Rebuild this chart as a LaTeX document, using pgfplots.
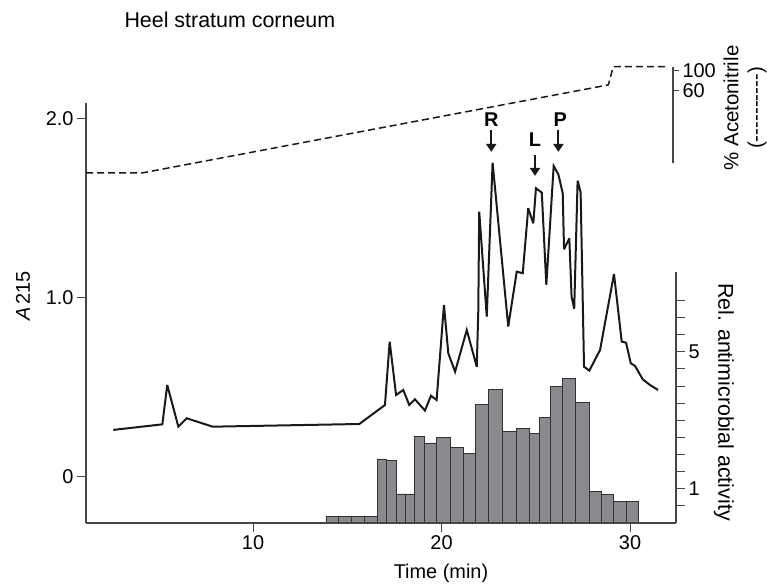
\documentclass[border=0pt]{standalone}
\usepackage{fontspec}
\setmainfont{Liberation Sans}
\usepackage{pgfplots}
\pgfplotsset{compat=1.18}
\usetikzlibrary{arrows.meta}
\definecolor{barfill}{RGB}{138,138,142}
\definecolor{baredge}{RGB}{50,50,52}
\definecolor{ink}{RGB}{25,25,25}
\definecolor{axisgray}{RGB}{70,70,70}

\begin{document}
\begin{tikzpicture}[font=\fontsize{20}{24}\selectfont]
\path[use as bounding box] (0,0) rectangle (767bp,584bp);

% Relative antimicrobial activity (bars, right axis)
\begin{axis}[
  at={(86bp,61bp)}, anchor=south west, scale only axis,
  width=590bp, height=251bp,
  xmin=1.14, xmax=32.44, ymin=0, ymax=7.33,
  axis x line=none, axis y line*=right,
  axis line style={axisgray, line width=1.2bp, -},
  ytick={1,5}, minor ytick={0.5,1.5,2,2.5,3,3.5,4,4.5,5.5,6,6.5},
  tick align=outside, major tick length=9bp, minor tick length=9bp,
  tick style={axisgray, line width=1bp},
  /pgf/number format/assume math mode=true,
  tick label style={font=\fontsize{20}{24}\selectfont},
]
\addplot[ybar interval, fill=barfill, draw=baredge, line width=0.7bp] coordinates {
(13.87,0.19) (14.55,0.19) (15.22,0.19) (15.88,0.19)
(16.59,1.87) (17.08,1.82) (17.58,0.85) (18.07,0.85)
(18.58,2.53) (19.11,2.34) (19.75,2.50) (20.48,2.21)
(21.18,2.02) (21.79,3.47) (22.51,3.90) (23.24,2.68)
(23.96,2.75) (24.65,2.61) (25.20,3.09) (25.78,3.99)
(26.43,4.21) (27.09,3.53) (27.83,0.92) (28.49,0.83)
(29.14,0.63) (29.80,0.63) (30.46,0)
};
\end{axis}

% A215 chromatogram (left axis) and acetonitrile gradient
\begin{axis}[
  at={(86bp,61bp)}, anchor=south west, scale only axis,
  width=590bp, height=420bp,
  xmin=1.14, xmax=32.44, ymin=-0.257, ymax=2.089,
  axis x line*=bottom, axis y line*=left,
  axis line style={axisgray, line width=1.2bp, -},
  xtick={10,20,30}, ytick={0,1,2}, yticklabels={0,1.0,2.0},
  tick align=outside, major tick length=9bp,
  tick style={axisgray, line width=1bp},
  /pgf/number format/assume math mode=true,
  tick label style={font=\fontsize{20}{24}\selectfont},
  clip=false,
]
\addplot[ink, dash pattern=on 7bp off 4bp, line width=1.5bp] coordinates {
(1.14,1.698) (4.1,1.698) (28.85,2.190) (29.11,2.292) (31.86,2.292)
};
\addplot[ink, line width=2bp, line join=miter, miter limit=4] coordinates {
(2.59,0.263) (5.19,0.294) (5.45,0.514) (6.04,0.281) (6.48,0.328)
(7.86,0.281) (15.64,0.296) (17.00,0.402) (17.25,0.756) (17.59,0.458)
(17.97,0.486) (18.29,0.402) (18.59,0.434) (19.12,0.371) (19.44,0.454)
(19.74,0.430) (20.13,0.961) (20.36,0.691) (20.72,0.588) (21.34,0.821)
(21.87,0.616) (21.95,0.924) (22.00,1.482) (22.40,0.896) (22.71,1.756)
(23.54,0.840) (23.99,1.147) (24.31,1.138) (24.60,1.501) (24.87,1.417)
(25.01,1.613) (25.32,1.588) (25.56,1.073) (25.95,1.737) (26.20,1.690)
(26.43,1.585) (26.50,1.272) (26.78,1.333) (26.90,1.007) (27.04,0.940)
(27.22,1.655) (27.38,1.590) (27.56,0.616) (27.84,0.594) (28.41,0.709)
(29.15,1.134) (29.56,0.756) (29.79,0.750) (30.04,0.635) (30.27,0.620)
(30.67,0.546) (31.06,0.514) (31.49,0.486)
};
\draw[ink, line width=2bp, -{Triangle[width=10bp,length=8bp]}] (axis cs:22.64,1.939) -- (axis cs:22.64,1.816);
\draw[ink, line width=2bp, -{Triangle[width=10bp,length=8bp]}] (axis cs:24.96,1.799) -- (axis cs:24.96,1.682);
\draw[ink, line width=2bp, -{Triangle[width=10bp,length=8bp]}] (axis cs:26.20,1.939) -- (axis cs:26.20,1.816);
\node[font=\fontsize{20}{24}\selectfont\bfseries, inner sep=0] at (axis cs:22.64,1.994) {R};
\node[font=\fontsize{20}{24}\selectfont\bfseries, inner sep=0] at (axis cs:24.96,1.883) {L};
\node[font=\fontsize{20}{24}\selectfont\bfseries, inner sep=0] at (axis cs:26.30,1.994) {P};
\end{axis}

% Acetonitrile scale
\begin{axis}[
  at={(86bp,421.3bp)}, anchor=south west, scale only axis,
  width=587bp, height=96bp,
  xmin=0, xmax=1, ymin=-81.3, ymax=107.9,
  axis x line=none, axis y line*=right,
  axis line style={axisgray, line width=1.2bp, -},
  ytick={60,100},
  tick align=outside, major tick length=6bp,
  tick style={axisgray, line width=1bp},
  /pgf/number format/assume math mode=true,
  tick label style={font=\fontsize{20}{24}\selectfont},
]
\end{axis}

\node[anchor=west, font=\fontsize{21.5}{25}\selectfont] at (121bp,564bp) {Heel stratum corneum};
\node at (441bp,11bp) {Time (min)};
\node[rotate=90] at (23bp,288bp) {\textit{A}\,215};
\node[rotate=-90, font=\fontsize{21.5}{25}\selectfont] at (724bp,182bp) {Rel. antimicrobial activity};
\node[rotate=90, align=center, inner sep=0, font=\fontsize{20.5}{24}\selectfont] at (745bp,476bp) {\% Acetonitrile\\(-{}-{}-{}-{}-{}-{}-{}-{}-{}-)};
\end{tikzpicture}
\end{document}
